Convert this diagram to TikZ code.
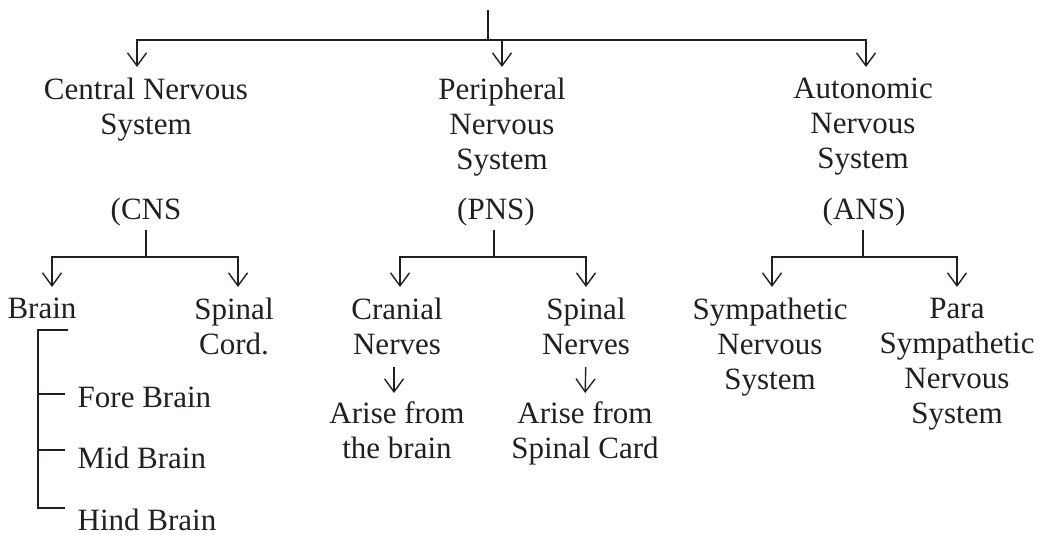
\documentclass[tikz,border=0pt]{standalone}
\usepackage{fontspec}
\setmainfont{Liberation Serif}
\usetikzlibrary{arrows.meta}
\definecolor{ink}{HTML}{231F20}
\tikzset{
  lbl/.style={align=center, inner sep=0pt, anchor=north},
  sub/.style={inner sep=0pt, anchor=base west},
  arr/.style={-{Straight Barb[length=13pt,width=19pt]}, shorten >=10pt},
}
\begin{document}
\begin{tikzpicture}[x=1pt,y=-1pt,line width=1.4pt,ink,font=\fontsize{31}{35}\selectfont]
    \useasboundingbox (0,0) rectangle (1046,535);
    %\draw [very thin, green] (0,0) grid[step=50] (1046,535);
    \coordinate (root) at (488,10);
    \coordinate (bar) at (488,40);

    \node at (146,77) [lbl] (cns) {Central Nervous\\System};
    \node at (502,77) [lbl] (pns) {Peripheral\\Nervous\\System};
    \node at (863,77) [lbl] (ans) {Autonomic\\Nervous\\System};

    \node at (146,197) [lbl] (cnsab) {(CNS};
    \node at (496,197) [lbl] (pnsab) {(PNS)};
    \node at (864,197) [lbl] (ansab) {(ANS)};

    \draw (root) -- (bar);
    \draw [arr] (bar) -| ([xshift=-9pt]cns.north);
    \draw [arr] (bar) -| (pns.north);
    \draw [arr] (bar) -| ([xshift=3pt]ans.north);

    \node at (42,297) [lbl] (brain) {Brain};
    \node at (234,297) [lbl] (spc) {Spinal\\Cord.};
    \node at (397,297) [lbl] (cran) {Cranial\\Nerves};
    \node at (586,297) [lbl] (spn) {Spinal\\Nerves};
    \node at (770,297) [lbl] (symp) {Sympathetic\\Nervous\\System};
    \node at (957,297) [lbl] (para) {Para\\Sympathetic\\Nervous\\System};

    \coordinate (cnsbar) at (cnsab.south |- 0,257);
    \coordinate (pnsbar) at (494,257);
    \coordinate (ansbar) at (863,257);

    \draw [shorten <=3pt] (cnsab.south) -- (cnsbar);
    \draw [shorten <=3pt] (pnsab.south -| pnsbar) -- (pnsbar);
    \draw [shorten <=3pt] (ansab.south -| ansbar) -- (ansbar);

    \draw [arr] (cnsbar) -| ([xshift=10pt]brain.north);
    \draw [arr] (cnsbar) -| ([xshift=4pt]spc.north);
    \draw [arr] (pnsbar) -| ([xshift=3pt]cran.north);
    \draw [arr] (pnsbar) -| (spn.north);
    \draw [arr] (ansbar) -| ([xshift=2pt]symp.north);
    \draw [arr] (ansbar) -| (para.north);

    \node at (397,401) [lbl] (rise1) {Arise from\\the brain};
    \node at (585,401) [lbl] (rise2) {Arise from\\Spinal Card};
    \draw [arr, shorten <=12pt, shorten >=8pt] ([xshift=-3pt]cran.south) -- ([xshift=-3pt]rise1.north);
    \draw [arr, shorten <=12pt, shorten >=8pt] (spn.south) -- (rise2.north);

    % brain parts
    \node at (77,407) [sub] (fore) {Fore Brain};
    \node at (77,468) [sub] (mid) {Mid Brain};
    \node at (77,530) [sub] (hind) {Hind Brain};
    \coordinate (bk) at (68,330);
    \coordinate (spine) at (38,330);
    \coordinate (t1) at (65,394);
    \coordinate (t2) at (65,450);
    \coordinate (t3) at (65,508);
    \draw (bk) -- (spine) |- (t3);
    \draw (spine |- t1) -- (t1);
    \draw (spine |- t2) -- (t2);
\end{tikzpicture}
\end{document}
